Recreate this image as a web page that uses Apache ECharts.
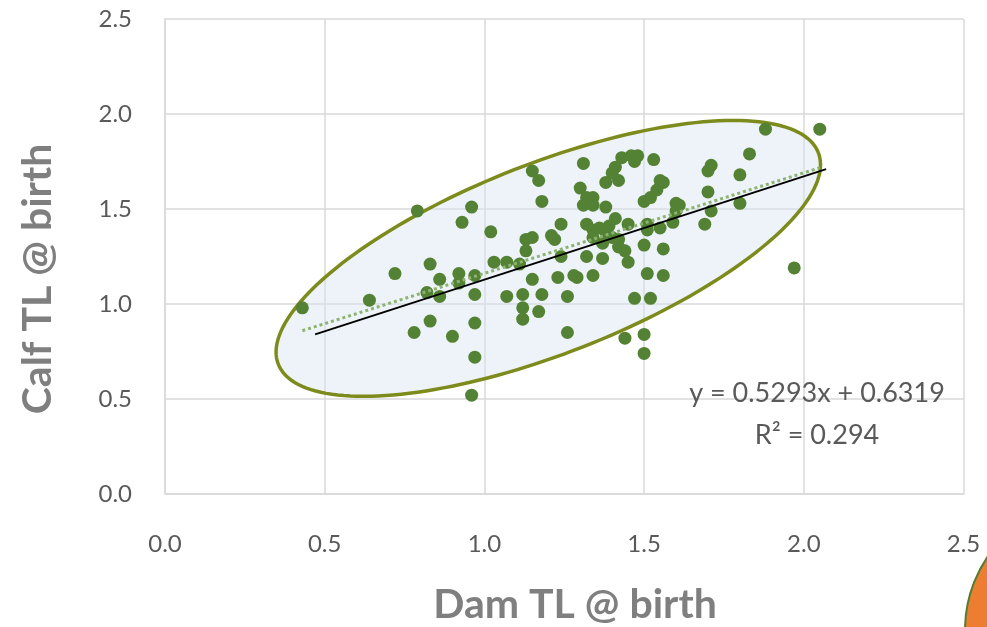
<!DOCTYPE html>
<html>
<head>
<meta charset="utf-8">
<script src="https://cdn.jsdelivr.net/npm/echarts@6/dist/echarts.min.js"></script>
<style>
  html, body { margin: 0; padding: 0; background: #ffffff; }
  #chart { width: 987px; height: 627px; }
</style>
</head>
<body>
<div id="chart"></div>
<script>
// Dam vs calf total length at birth
const damTL = [0.43,0.64,0.72,0.79,0.78,0.83,0.83,0.82,0.86,0.86,0.90,0.92,0.92,0.93,0.96,0.97,0.97,0.97,0.97,0.96,
  1.02,1.03,1.07,1.11,1.07,1.12,1.12,1.12,1.17,1.18,1.15,1.13,1.15,1.13,1.21,1.22,1.24,1.15,1.17,1.18,
  1.23,1.24,1.26,1.26,1.28,1.29,1.34,1.31,1.30,1.32,1.34,1.31,1.34,1.38,1.41,1.40,1.38,1.42,1.43,1.46,
  1.48,1.47,1.53,1.55,1.56,1.54,1.52,1.50,1.60,1.60,1.59,1.51,1.51,1.55,1.50,1.56,1.32,1.37,1.45,1.51,
  1.56,1.47,1.52,1.44,1.50,1.50,1.32,1.34,1.34,1.36,1.38,1.39,1.41,1.40,1.42,1.42,1.44,1.45,1.37,
  1.88,2.05,1.83,1.71,1.70,1.80,1.70,1.80,1.61,1.71,1.69,1.97];
const calfTL = [0.98,1.02,1.16,1.49,0.85,0.91,1.21,1.06,1.13,1.04,0.83,1.16,1.11,1.43,1.51,1.15,1.05,0.90,0.72,0.52,
  1.38,1.22,1.22,1.21,1.04,1.05,0.98,0.92,0.96,1.05,1.13,1.34,1.35,1.28,1.36,1.34,1.42,1.70,1.65,1.54,
  1.14,1.25,1.04,0.85,1.15,1.14,1.15,1.74,1.61,1.56,1.56,1.52,1.52,1.51,1.72,1.69,1.64,1.65,1.77,1.78,
  1.78,1.75,1.76,1.65,1.64,1.60,1.56,1.54,1.53,1.49,1.43,1.42,1.39,1.40,1.31,1.29,1.25,1.24,1.22,1.16,
  1.15,1.03,1.03,0.82,0.84,0.74,1.42,1.39,1.35,1.40,1.38,1.41,1.45,1.35,1.34,1.30,1.28,1.42,1.32,
  1.92,1.92,1.79,1.73,1.70,1.68,1.59,1.53,1.52,1.49,1.42,1.19];

// Linear fit shown in the equation label
const slope = 0.5293;
const intercept = 0.6319;
const rSquared = 0.294;

// Hand-drawn guide line
const guideLine = [[0.47, 0.84], [2.07, 1.71]];

// Ellipse enclosing the bulk of the data (centre in data units)
const ellipseCentre = [1.20, 1.24];

const axisTicks = [0, 0.5, 1.0, 1.5, 2.0, 2.5];

const points = damTL.map((x, i) => [x, calfTL[i]]);
const xMin = Math.min(...damTL), xMax = Math.max(...damTL);
const trend = [[xMin, slope * xMin + intercept], [xMax, slope * xMax + intercept]];

const font = 'Lato, "Open Sans", "Noto Sans", sans-serif';
const gridColor = '#D9D9D9';

const chart = echarts.init(document.getElementById('chart'), null, { renderer: 'canvas' });

function axis() {
  return {
    type: 'value',
    min: axisTicks[0],
    max: axisTicks[axisTicks.length - 1],
    interval: axisTicks[1] - axisTicks[0],
    axisLine: { show: true, lineStyle: { color: gridColor, width: 1.5 } },
    axisTick: { show: false },
    splitLine: { show: true, lineStyle: { color: gridColor, width: 1.5 } },
    axisLabel: {
      color: '#595959', fontFamily: font, fontSize: 24,
      formatter: v => v.toFixed(1)
    }
  };
}

const xAxis = axis();
xAxis.axisLabel.margin = 38;
const yAxis = axis();
yAxis.axisLabel.margin = 33;

chart.setOption({
  animation: false,
  grid: { left: 165, right: 23.5, top: 19, bottom: 133 },
  xAxis: xAxis,
  yAxis: yAxis,
  series: [
    {
      type: 'scatter',
      data: points,
      symbolSize: 13,
      itemStyle: { color: '#548235', opacity: 1 },
      z: 3
    },
    {
      type: 'line',
      data: trend,
      symbol: 'none',
      lineStyle: { color: '#8DB371', width: 3, type: [3, 3], cap: 'butt' },
      z: 4
    },
    {
      type: 'line',
      data: guideLine,
      symbol: 'none',
      lineStyle: { color: '#000000', width: 2 },
      z: 5
    }
  ]
});

// Outline of the rotated ellipse, traced in pixel space around its centre
const c = chart.convertToPixel({ gridIndex: 0 }, ellipseCentre);
const semiMajor = 290, semiMinor = 95, tilt = 21.4 * Math.PI / 180;
const outline = [];
for (let k = 0; k < 180; k++) {
  const t = (k / 180) * Math.PI * 2;
  const ex = semiMajor * Math.cos(t), ey = semiMinor * Math.sin(t);
  outline.push([
    c[0] + ex * Math.cos(tilt) + ey * Math.sin(tilt),
    c[1] - ex * Math.sin(tilt) + ey * Math.cos(tilt)
  ]);
}

chart.setOption({
  graphic: [
    {
      type: 'polygon',
      shape: { points: outline },
      style: { fill: 'rgba(214,228,240,0.45)', stroke: '#7D8B1C', lineWidth: 3.5 },
      z: 1
    },
    {
      type: 'text',
      x: 817, y: 393,
      style: {
        text: 'y = ' + slope + 'x + ' + intercept,
        fill: '#595959', font: '27px ' + font, textAlign: 'center', textVerticalAlign: 'middle'
      },
      z: 10
    },
    {
      type: 'text',
      x: 817, y: 435,
      style: {
        text: 'R² = ' + rSquared,
        fill: '#595959', font: '27px ' + font, textAlign: 'center', textVerticalAlign: 'middle'
      },
      z: 10
    },
    {
      type: 'text',
      x: 575, y: 605,
      style: {
        text: 'Dam TL @ birth',
        fill: '#7F7F7F', font: 'bold 41px ' + font, textAlign: 'center', textVerticalAlign: 'middle'
      },
      z: 10
    },
    {
      type: 'text',
      x: 38, y: 279,
      rotation: Math.PI / 2,
      style: {
        text: 'Calf TL @ birth',
        fill: '#7F7F7F', font: 'bold 41px ' + font, textAlign: 'center', textVerticalAlign: 'middle'
      },
      z: 10
    },
    {
      type: 'circle',
      shape: { cx: 1095, cy: 630, r: 130 },
      style: { fill: '#ED7D31', stroke: '#507E32', lineWidth: 2 },
      z: 10
    }
  ]
});
</script>
</body>
</html>
